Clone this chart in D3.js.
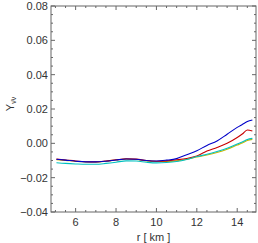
<!DOCTYPE html>
<html>
<head>
<meta charset="utf-8">
<script src="https://cdn.jsdelivr.net/npm/d3@7"></script>
<style>
  body { margin: 0; background: #fff; }
  text { font-family: "Liberation Sans", Arial, sans-serif; fill: #333; }
</style>
</head>
<body>
<div id="chart"></div>
<script>
(function() {

  var width = 258,
      height = 243;

  var margin = {top: 6, right: 2, bottom: 31, left: 51};

  // radius samples [km]
  var radius = [5.05, 5.5, 6, 6.5, 7, 7.5, 8, 8.5, 9, 9.5, 10, 10.5, 11, 11.5, 12, 12.5, 13, 13.5, 14, 14.25, 14.5, 14.75];

  var blueValues = [-0.0093, -0.0098, -0.0104, -0.0108, -0.0108, -0.0104, -0.0097, -0.0091, -0.0093, -0.0100, -0.0103, -0.0098, -0.0089, -0.0066, -0.0043, -0.0012, 0.0014, 0.0053, 0.0093, 0.0110, 0.0127, 0.0136];
  var redValues = [-0.0092, -0.0097, -0.0103, -0.0107, -0.0108, -0.0103, -0.0096, -0.0090, -0.0092, -0.0100, -0.0104, -0.0102, -0.0096, -0.0088, -0.0074, -0.0045, -0.0024, 0.0000, 0.0034, 0.0054, 0.0078, 0.0072];
  var yellowValues = [-0.0095, -0.0099, -0.0105, -0.0109, -0.0109, -0.0104, -0.0097, -0.0092, -0.0094, -0.0102, -0.0106, -0.0106, -0.0102, -0.0093, -0.0080, -0.0068, -0.0053, -0.0034, -0.0010, 0.0002, 0.0016, 0.0023];
  var cyanValues = [-0.0113, -0.0117, -0.0120, -0.0122, -0.0122, -0.0117, -0.0110, -0.0102, -0.0103, -0.0110, -0.0114, -0.0112, -0.0106, -0.0094, -0.0077, -0.0064, -0.0048, -0.0029, -0.0004, 0.0008, 0.0022, 0.0029];

  var series = [
    {name: "yellow", values: yellowValues, color: "#c8b800"},
    {name: "red", values: redValues, color: "#c80000"},
    {name: "blue", values: blueValues, color: "#0000c8"},
    {name: "cyan", values: cyanValues, color: "#00c0c0"}
  ];

  var xTicks = [6, 8, 10, 12, 14],
      yTicks = [-0.04, -0.02, 0.00, 0.02, 0.04, 0.06, 0.08];

  var x = d3.scaleLinear()
      .domain([4.78, 14.93])
      .range([margin.left, width - margin.right]);

  var y = d3.scaleLinear()
      .domain([-0.04, 0.08])
      .range([height - margin.bottom, margin.top]);

  var svg = d3.select("#chart").append("svg")
      .attr("width", width)
      .attr("height", height);

  var plot = svg.append("g");

  var line = d3.line()
      .x(d => x(d[0]))
      .y(d => y(d[1]))
      .curve(d3.curveMonotoneX);

  plot.selectAll(".series")
      .data(series)
    .enter().append("path")
      .attr("class", "series")
      .attr("fill", "none")
      .attr("stroke", d => d.color)
      .attr("stroke-width", 1.1)
      .attr("d", d => line(radius.map((r, i) => [r, d.values[i]])));

  // frame
  var frameColor = "#666";
  var x0 = margin.left, x1 = width - margin.right,
      y0 = height - margin.bottom, y1 = margin.top;

  svg.append("rect")
      .attr("x", x0)
      .attr("y", y1)
      .attr("width", x1 - x0)
      .attr("height", y0 - y1)
      .attr("fill", "none")
      .attr("stroke", frameColor)
      .attr("stroke-width", 1);

  var xMinor = d3.range(5, 15, 0.5).filter(v => xTicks.indexOf(v) < 0);
  var yMinor = d3.range(-0.04, 0.0801, 0.005).filter(v => !yTicks.some(t => Math.abs(t - v) < 1e-6));

  var ticks = svg.append("g").attr("stroke", frameColor).attr("stroke-width", 1);

  function xTick(v, len) {
    ticks.append("line").attr("x1", x(v)).attr("x2", x(v)).attr("y1", y0).attr("y2", y0 - len);
    ticks.append("line").attr("x1", x(v)).attr("x2", x(v)).attr("y1", y1).attr("y2", y1 + len);
  }
  function yTick(v, len) {
    ticks.append("line").attr("y1", y(v)).attr("y2", y(v)).attr("x1", x0).attr("x2", x0 + len);
    ticks.append("line").attr("y1", y(v)).attr("y2", y(v)).attr("x1", x1).attr("x2", x1 - len);
  }

  xTicks.forEach(v => xTick(v, 4));
  xMinor.forEach(v => xTick(v, 2));
  yTicks.forEach(v => yTick(v, 4));
  yMinor.forEach(v => yTick(v, 2));

  svg.selectAll(".xlabel")
      .data(xTicks)
    .enter().append("text")
      .attr("x", d => x(d))
      .attr("y", y0 + 14)
      .attr("text-anchor", "middle")
      .style("font-size", "11px")
      .text(d => d);

  var fmt = d3.format(".2f");
  svg.selectAll(".ylabel")
      .data(yTicks)
    .enter().append("text")
      .attr("x", x0 - 3)
      .attr("y", d => y(d) + 4)
      .attr("text-anchor", "end")
      .style("font-size", "11px")
      .text(d => fmt(d).replace("-", "\u2212"));

  svg.append("text")
      .attr("x", (x0 + x1) / 2)
      .attr("y", 241)
      .attr("text-anchor", "middle")
      .style("font-size", "11px")
      .text("r [ km ]");

  var ylab = svg.append("text")
      .attr("transform", "translate(14,104) rotate(-90)")
      .attr("text-anchor", "middle")
      .style("font-size", "11px");
  ylab.append("tspan").text("Y");
  ylab.append("tspan")
      .attr("dy", 2)
      .style("font-size", "7px")
      .text("\u03bd\u0304\u03bd");

})();
</script>
</body>
</html>
